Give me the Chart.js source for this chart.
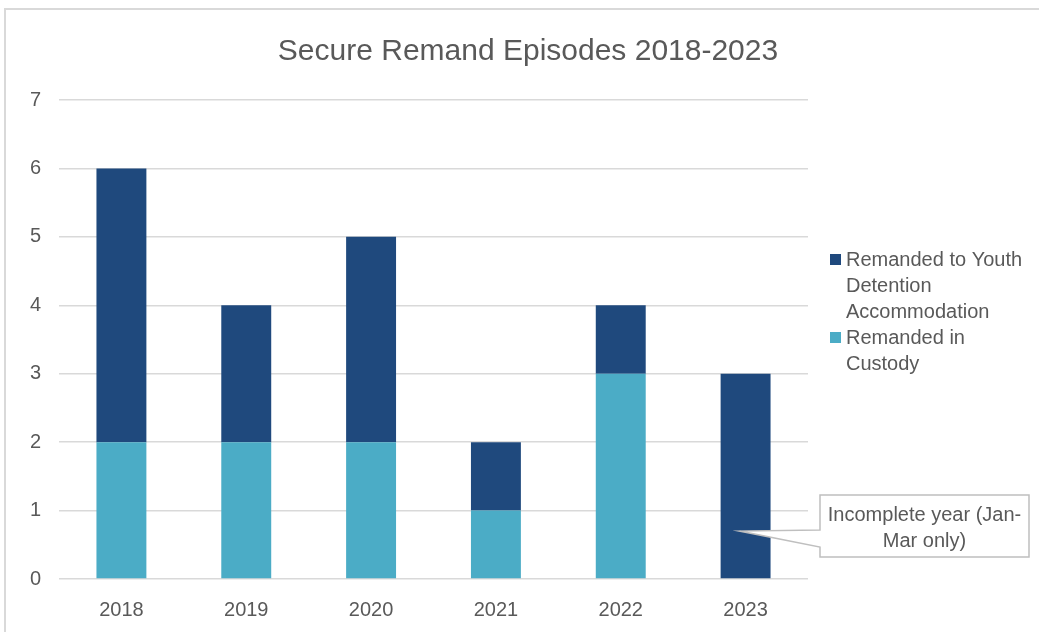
<!DOCTYPE html>
<html>
<head>
<meta charset="utf-8">
<script src="https://cdn.jsdelivr.net/npm/chart.js@4"></script>
<style>
    html, body { margin: 0; padding: 0; background: #fff; overflow: hidden; }
    #frame {
        position: absolute; left: 4px; top: 8px;
        width: 1048px; height: 640px;
        border: 2px solid #d9d9d9; box-sizing: border-box;
    }
    #frame canvas { position: absolute; left: -2px; top: -2px; }
</style>
</head>
<body>
<div id="frame"><canvas id="remandChart" width="1048" height="640"></canvas></div>
<script>
const years = ['2018', '2019', '2020', '2021', '2022', '2023'];
const inCustody = [2, 2, 2, 1, 3, 0];
const youthDetention = [4, 2, 3, 1, 1, 3];
const yTicks = [0, 1, 2, 3, 4, 5, 6, 7];

const titleText = 'Secure Remand Episodes 2018-2023';
const legendLines = {
    'Remanded to Youth Detention Accommodation': ['Remanded to Youth', 'Detention', 'Accommodation'],
    'Remanded in Custody': ['Remanded in', 'Custody']
};
const noteLines = ['Incomplete year (Jan-', 'Mar only)'];

const TEXT = '#595959';
const FONT = '"Liberation Sans", Arial, sans-serif';

// title, wrapped legend and the callout on the 2023 bar
const extras = {
    id: 'extras',
    afterDraw(chart) {
        const ctx = chart.ctx;
        const x = chart.scales.x, y = chart.scales.y;
        ctx.save();

        ctx.fillStyle = TEXT;
        ctx.font = '30px ' + FONT;
        ctx.textAlign = 'center';
        ctx.textBaseline = 'middle';
        ctx.fillText(titleText, chart.width / 2, 44);

        // legend, top series first
        ctx.font = '20px ' + FONT;
        ctx.textAlign = 'left';
        let ly = 252;
        chart.data.datasets.slice().reverse().forEach(ds => {
            ctx.fillStyle = ds.backgroundColor;
            ctx.fillRect(826, ly - 6, 11, 11);
            ctx.fillStyle = TEXT;
            legendLines[ds.label].forEach(line => {
                ctx.fillText(line, 842, ly);
                ly += 26;
            });
        });

        // callout box with pointer
        const tipX = x.getPixelForValue(5) - 6;
        const tipY = y.getPixelForValue(0.7);
        const bx = 816, by = 487, bw = 209, bh = 62;
        ctx.beginPath();
        ctx.moveTo(bx, by);
        ctx.lineTo(bx + bw, by);
        ctx.lineTo(bx + bw, by + bh);
        ctx.lineTo(bx, by + bh);
        ctx.lineTo(bx, by + 52);
        ctx.lineTo(tipX, tipY);
        ctx.lineTo(bx, by + 35);
        ctx.closePath();
        ctx.fillStyle = '#fff';
        ctx.fill();
        ctx.strokeStyle = '#bfbfbf';
        ctx.lineWidth = 1.5;
        ctx.stroke();

        ctx.fillStyle = TEXT;
        ctx.textAlign = 'center';
        noteLines.forEach((line, i) => {
            ctx.fillText(line, bx + bw / 2, by + 20 + i * 26);
        });
        ctx.restore();
    }
};

new Chart(document.getElementById('remandChart'), {
    type: 'bar',
    data: {
        labels: years,
        datasets: [
            {
                label: 'Remanded in Custody',
                data: inCustody,
                backgroundColor: '#4bacc6',
                categoryPercentage: 1,
                barPercentage: 0.4
            },
            {
                label: 'Remanded to Youth Detention Accommodation',
                data: youthDetention,
                backgroundColor: '#1f497d',
                categoryPercentage: 1,
                barPercentage: 0.4
            }
        ]
    },
    options: {
        responsive: false,
        animation: false,
        layout: { padding: { top: 92, left: 15, right: 244, bottom: 29 } },
        plugins: {
            legend: { display: false },
            title: { display: false },
            tooltip: { enabled: false }
        },
        scales: {
            x: {
                stacked: true,
                grid: { display: false },
                border: { display: false },
                ticks: { color: TEXT, font: { family: FONT, size: 20 }, padding: 11 },
                afterFit: s => { s.height = 40; }
            },
            y: {
                stacked: true,
                min: 0,
                max: 7,
                afterBuildTicks: s => { s.ticks = yTicks.map(v => ({ value: v })); },
                grid: { color: '#d9d9d9', lineWidth: 1.5, drawTicks: false },
                border: { display: false },
                ticks: { color: TEXT, font: { family: FONT, size: 20 }, padding: 18 },
                afterFit: s => { s.width = 40; }
            }
        }
    },
    plugins: [extras]
});
</script>
</body>
</html>
